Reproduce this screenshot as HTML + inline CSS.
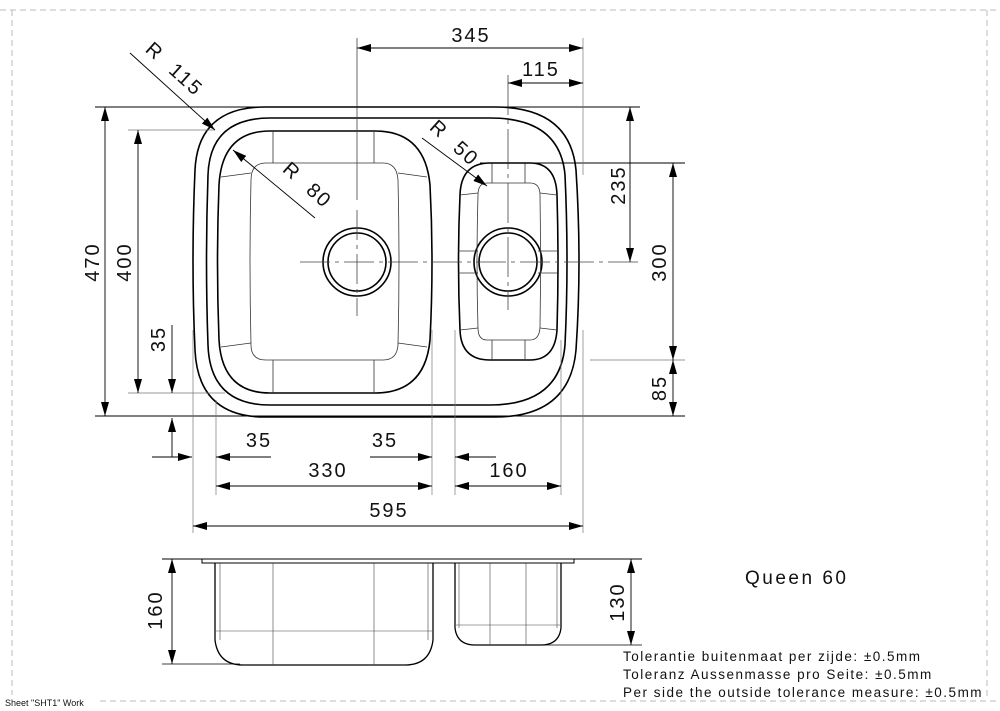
<!DOCTYPE html>
<html><head><meta charset="utf-8"><style>
html,body{margin:0;padding:0;background:#fff}
svg{display:block}
text{font-family:"Liberation Sans",Arial,sans-serif;fill:#111}
</style></head><body>
<svg width="1000" height="711" viewBox="0 0 1000 711" xmlns="http://www.w3.org/2000/svg">
<defs>
<marker id="a" markerUnits="userSpaceOnUse" viewBox="0 0 14 8" refX="14" refY="4" markerWidth="14" markerHeight="8" orient="auto-start-reverse"><path d="M0,0L14,4L0,8Z" fill="#000"/></marker>
</defs>
<g stroke="#bbb" stroke-width="1" stroke-dasharray="6,4" fill="none">
<line x1="0" y1="10" x2="1000" y2="10"/>
<line x1="12" y1="10" x2="12" y2="695"/>
<line x1="987" y1="10" x2="987" y2="700"/>
<line x1="100" y1="701" x2="1000" y2="701"/>
</g>
<text x="5" y="706" font-size="9">Sheet "SHT1" Work</text>

<g fill="none" stroke="#000" stroke-width="1.6">
<path d="M265,107 L495,107 Q570,107 576,170 Q582,262 576,350 Q570,417 495,417 L265,417 Q198,417 195,350 Q191,262 195,170 Q198,107 265,107Z"/>
<path d="M270,118 L490,118 Q560,118 565,175 Q569,262 565,345 Q560,405 490,405 L270,405 Q210,405 208,345 Q205,262 208,175 Q210,118 270,118Z"/>
<path d="M270,131 L375,131 Q425,131 430,185 Q434,262 430,340 Q425,393 375,393 L270,393 Q222,393 219,340 Q216,262 219,185 Q222,131 270,131Z"/>
<path d="M490,163 L530,163 Q556,163 557,195 Q559,262 557,330 Q555,360 530,360 L490,360 Q461,360 460,330 Q457,262 460,195 Q461,163 490,163Z"/>
<circle cx="357" cy="262" r="34"/>
<circle cx="357" cy="262" r="29"/>
<circle cx="508" cy="262" r="34"/>
<circle cx="508" cy="262" r="29"/>
</g>
<g fill="none" stroke="#333" stroke-width="0.8">
<path d="M266,163 L383,163 Q397,163 398,180 Q400,262 398,345 Q397,360 383,360 L266,360 Q251,360 251,345 Q249,262 251,180 Q251,163 266,163Z"/>
<path d="M487,183 L530,183 Q540,183 540,195 Q541,262 540,328 Q539,340 530,340 L487,340 Q478,340 478,328 Q476,262 478,195 Q478,183 487,183Z"/>
<line x1="273" y1="131" x2="273" y2="163"/><line x1="374" y1="131" x2="374" y2="163"/>
<line x1="273" y1="360" x2="273" y2="393"/><line x1="374" y1="360" x2="374" y2="393"/>
<line x1="221" y1="177" x2="251" y2="173"/><line x1="398" y1="173" x2="427" y2="177"/>
<line x1="221" y1="347" x2="251" y2="343"/><line x1="398" y1="343" x2="427" y2="347"/>
<line x1="492" y1="163" x2="492" y2="183"/><line x1="525" y1="163" x2="525" y2="183"/>
<line x1="492" y1="340" x2="492" y2="360"/><line x1="525" y1="340" x2="525" y2="360"/>
<line x1="460" y1="195" x2="478" y2="193"/><line x1="540" y1="193" x2="557" y2="195"/>
<line x1="460" y1="330" x2="478" y2="328"/><line x1="540" y1="328" x2="557" y2="330"/>
<line x1="458" y1="251" x2="478" y2="251"/><line x1="458" y1="273" x2="478" y2="273"/>
<line x1="538" y1="251" x2="559" y2="251"/><line x1="538" y1="273" x2="559" y2="273"/>
</g>
<g stroke="#444" stroke-width="0.8" fill="none">
<line x1="357" y1="38" x2="357" y2="200"/>
<line x1="357" y1="210" x2="357" y2="316" stroke-dasharray="30,5,4,5"/>
<line x1="300" y1="262" x2="640" y2="262" stroke-dasharray="30,5,4,5"/>
<line x1="508" y1="75" x2="508" y2="310" stroke-dasharray="40,5,4,5"/>
</g>
<g stroke="#000" stroke-width="0.9" fill="none">
<line x1="95" y1="107" x2="640" y2="107"/>
<line x1="480" y1="163" x2="685" y2="163"/>
<line x1="95" y1="416" x2="685" y2="416"/>
</g>
<g stroke="#777" stroke-width="0.7" fill="none">
<line x1="583" y1="38" x2="583" y2="175"/>
<line x1="128" y1="130" x2="215" y2="130"/>
<line x1="128" y1="393" x2="225" y2="393"/>
<line x1="590" y1="360" x2="685" y2="360"/>
<line x1="193" y1="330" x2="193" y2="533"/>
<line x1="216" y1="400" x2="216" y2="495"/>
<line x1="432" y1="330" x2="432" y2="495"/>
<line x1="455" y1="330" x2="455" y2="495"/>
<line x1="561" y1="340" x2="561" y2="495"/>
<line x1="583" y1="330" x2="583" y2="533"/>
</g>
<g stroke="#000" stroke-width="0.9" fill="none">
<line x1="357" y1="48" x2="583" y2="48" marker-start="url(#a)" marker-end="url(#a)"/>
<line x1="508" y1="83" x2="583" y2="83" marker-start="url(#a)" marker-end="url(#a)"/>
<line x1="105" y1="107" x2="105" y2="416" marker-start="url(#a)" marker-end="url(#a)"/>
<line x1="138" y1="130" x2="138" y2="393" marker-start="url(#a)" marker-end="url(#a)"/>
<line x1="172" y1="325" x2="172" y2="393" marker-end="url(#a)"/>
<line x1="172" y1="457" x2="172" y2="418" marker-end="url(#a)"/>
<line x1="152" y1="457" x2="192" y2="457" marker-end="url(#a)"/>
<line x1="271" y1="457" x2="216" y2="457" marker-end="url(#a)"/>
<line x1="370" y1="457" x2="432" y2="457" marker-end="url(#a)"/>
<line x1="496" y1="457" x2="455" y2="457" marker-end="url(#a)"/>
<line x1="216" y1="486" x2="432" y2="486" marker-start="url(#a)" marker-end="url(#a)"/>
<line x1="455" y1="486" x2="561" y2="486" marker-start="url(#a)" marker-end="url(#a)"/>
<line x1="193" y1="526" x2="583" y2="526" marker-start="url(#a)" marker-end="url(#a)"/>
<line x1="630" y1="107" x2="630" y2="262" marker-start="url(#a)" marker-end="url(#a)"/>
<line x1="673" y1="163" x2="673" y2="360" marker-start="url(#a)" marker-end="url(#a)"/>
<line x1="673" y1="360" x2="673" y2="416" marker-start="url(#a)" marker-end="url(#a)"/>
<line x1="130" y1="53" x2="215" y2="130" marker-end="url(#a)"/>
<line x1="315" y1="218" x2="233" y2="150" marker-end="url(#a)"/>
<line x1="422" y1="138" x2="487" y2="186" marker-end="url(#a)"/>
</g>
<g font-size="20" letter-spacing="2">
<text x="471" y="42" text-anchor="middle">345</text>
<text x="541" y="76" text-anchor="middle">115</text>
<text x="259" y="447" text-anchor="middle">35</text>
<text x="385" y="447" text-anchor="middle">35</text>
<text x="328" y="477" text-anchor="middle">330</text>
<text x="509" y="477" text-anchor="middle">160</text>
<text x="389" y="517" text-anchor="middle">595</text>
<text transform="translate(99,262) rotate(-90)" text-anchor="middle">470</text>
<text transform="translate(131,262) rotate(-90)" text-anchor="middle">400</text>
<text transform="translate(165,339) rotate(-90)" text-anchor="middle">35</text>
<text transform="translate(625,185) rotate(-90)" text-anchor="middle">235</text>
<text transform="translate(666,262) rotate(-90)" text-anchor="middle">300</text>
<text transform="translate(666,388) rotate(-90)" text-anchor="middle">85</text>
<text transform="translate(170,74) rotate(42)" text-anchor="middle">R&#160;&#160;115</text>
<text transform="translate(303,190) rotate(42)" text-anchor="middle">R&#160;&#160;80</text>
<text transform="translate(450,148) rotate(42)" text-anchor="middle">R&#160;&#160;50</text>
<text transform="translate(162,610) rotate(-90)" text-anchor="middle">160</text>
<text transform="translate(624,602) rotate(-90)" text-anchor="middle">130</text>
</g>
<g fill="none" stroke="#000" stroke-width="1">
<line x1="162" y1="559" x2="642" y2="559" stroke-width="0.9"/>
<path d="M202,559 L202,563 L574,563 L574,559"/>
<path d="M215,563 L215,640 Q218,665 243,665 L405,665 Q430,665 433,640 L433,563" stroke-width="1.3"/>
<path d="M455,563 L455,628 Q457,645 475,645 L541,645 Q559,645 561,628 L561,563" stroke-width="1.3"/>
<line x1="162" y1="664" x2="240" y2="664" stroke-width="0.8"/>
<line x1="540" y1="645" x2="642" y2="645" stroke-width="0.8"/>
<line x1="172" y1="559" x2="172" y2="664" marker-start="url(#a)" marker-end="url(#a)" stroke-width="0.9"/>
<line x1="631" y1="559" x2="631" y2="645" marker-start="url(#a)" marker-end="url(#a)" stroke-width="0.9"/>
</g>
<g fill="none" stroke="#444" stroke-width="0.6">
<line x1="220" y1="563" x2="220" y2="640"/><line x1="428" y1="563" x2="428" y2="640"/>
<line x1="273" y1="563" x2="273" y2="665"/><line x1="374" y1="563" x2="374" y2="665"/>
<line x1="216" y1="631" x2="432" y2="631"/>
<line x1="459" y1="563" x2="459" y2="628"/><line x1="557" y1="563" x2="557" y2="628"/>
<line x1="490" y1="563" x2="490" y2="645"/><line x1="526" y1="563" x2="526" y2="645"/>
<line x1="456" y1="625" x2="560" y2="625"/>
</g>
<text x="745" y="584" font-size="19" letter-spacing="2.5">Queen 60</text>
<g font-size="13.5" letter-spacing="1.5">
<text x="623" y="661">Tolerantie buitenmaat per zijde: ±0.5mm</text>
<text x="623" y="679">Toleranz Aussenmasse pro Seite: ±0.5mm</text>
<text x="623" y="697">Per side the outside tolerance measure: ±0.5mm</text>
</g>
</svg>
</body></html>
